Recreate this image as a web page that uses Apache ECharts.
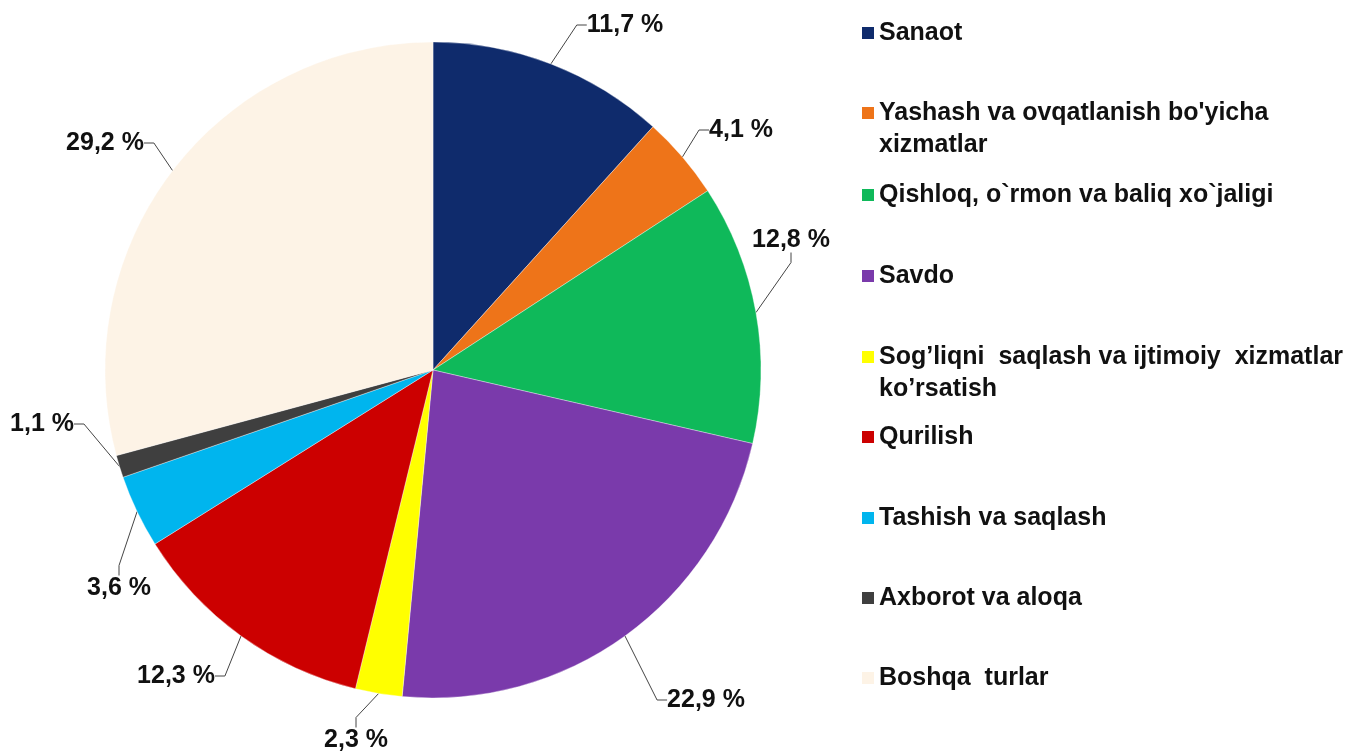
<!DOCTYPE html>
<html>
<head>
<meta charset="utf-8">
<script src="https://cdn.jsdelivr.net/npm/echarts@6/dist/echarts.min.js"></script>
<style>
  html, body { margin: 0; padding: 0; background: #fff; }
  #chart { width: 1351px; height: 751px; }
</style>
</head>
<body>
<div id="chart"></div>
<script>
  // sectors (legend order = slice order, clockwise from 12 o'clock)
  const categories = [
    "Sanaot",
    "Yashash va ovqatlanish bo'yicha\nxizmatlar",
    "Qishloq, o`rmon va baliq xo`jaligi",
    "Savdo",
    "Sog\u2019liqni  saqlash va ijtimoiy  xizmatlar\nko\u2019rsatish",
    "Qurilish",
    "Tashish va saqlash",
    "Axborot va aloqa",
    "Boshqa  turlar"
  ];
  const shares = [11.7, 4.1, 12.8, 22.9, 2.3, 12.3, 3.6, 1.1, 29.2];
  const colors = ["#0f2b6c", "#ee7419", "#0fb95a", "#7a3aab", "#ffff00", "#cc0000", "#00b5ee", "#3f3f3f", "#fdf3e6"];

  // layout: y of the first text line of each legend entry, label centres
  const legendY = [33, 113, 195, 276, 357, 437, 518, 598, 678];
  const labelPos = [[625, 25], [741, 130], [791, 240], [706, 700], [356, 740],
                    [176, 676], [119, 588], [42, 424], [105, 143]];

  const chart = echarts.init(document.getElementById("chart"));

  // square on the first line only for two-line entries
  const twoLineIcon = "path://M0,0h12v12h-12z M0,44L0.1,44";

  const legends = categories.map((name, i) => {
    const twoLine = name.indexOf("\n") >= 0;
    return {
      data: [name],
      orient: "vertical",
      left: 862,
      top: legendY[i] - 16,
      padding: 0,
      itemWidth: 12,
      itemHeight: twoLine ? 44 : 12,
      icon: twoLine ? twoLineIcon : "rect",
      itemStyle: { borderWidth: 0 },
      selectedMode: false,
      textStyle: {
        fontFamily: "Liberation Sans, Arial, sans-serif",
        fontWeight: "bold",
        fontSize: 25,
        lineHeight: 32,
        color: "#111"
      }
    };
  });

  const option = {
    animation: false,
    color: colors,
    legend: legends,
    series: [{
      type: "pie",
      center: [433, 370],
      radius: 328,
      startAngle: 90,
      clockwise: true,
      avoidLabelOverlap: false,
      data: categories.map((n, i) => ({ name: n, value: shares[i] })),
      itemStyle: {
        borderColor: "rgba(255,255,255,0.35)",
        borderWidth: 1
      },
      label: {
        show: true,
        position: "outside",
        formatter: p => p.value.toFixed(1).replace(".", ",") + " %",
        fontFamily: "Liberation Sans, Arial, sans-serif",
        fontWeight: "bold",
        fontSize: 25,
        color: "#111"
      },
      labelLine: {
        show: true,
        length: 18,
        length2: 10,
        lineStyle: { color: "#444", width: 1 }
      },
      labelLayout: p => ({
        x: labelPos[p.dataIndex][0],
        y: labelPos[p.dataIndex][1],
        align: "center",
        verticalAlign: "middle"
      })
    }]
  };

  chart.setOption(option);
</script>
</body>
</html>
